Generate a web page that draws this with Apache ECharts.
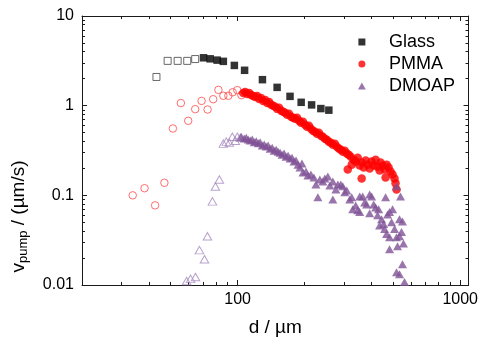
<!DOCTYPE html>
<html>
<head>
<meta charset="utf-8">
<script src="https://cdn.jsdelivr.net/npm/echarts@6/dist/echarts.min.js"></script>
<style>
  html, body { margin: 0; padding: 0; background: #fff; }
  #chart { width: 481px; height: 342px; }
</style>
</head>
<body>
<div id="chart"></div>
<script>
// Pumping speed v_pump (µm/s) against channel size d (µm), three wall coatings.
// Open symbols: points below the transition; filled symbols: main data set.

const glassOpen = [[43.2, 2.09], [48.5, 3.16], [53.8, 3.16], [59.4, 3.16], [64.5, 3.31]];
const glassFilled = [
  [70.3, 3.42], [75.3, 3.33], [80.9, 3.22], [86.3, 3.12], [96.7, 2.81], [107.5, 2.48],
  [129.3, 1.95], [150.5, 1.60], [172, 1.27], [193, 1.09], [215, 1.02], [236.6, 0.928], [257, 0.891]
];

const pmmaOpen = [
  [33.8, 0.100], [38.2, 0.120], [42.6, 0.0773], [46.9, 0.138], [51.2, 0.557], [55.6, 1.07],
  [60.0, 0.678], [64.5, 0.914], [68.9, 1.13], [73.3, 0.906], [77.7, 1.18], [82.0, 1.50],
  [86.3, 1.29], [90.9, 1.29], [95.0, 1.41], [99.7, 1.49], [104, 1.31]
];
const pmmaFilled = [
  [106.0, 1.386], [108.2, 1.422], [110.5, 1.351], [112.8, 1.386], [115.1, 1.318], [117.5, 1.284],
  [120.0, 1.252], [122.5, 1.284], [125.0, 1.190], [127.6, 1.220], [130.3, 1.130], [133.0, 1.160],
  [135.8, 1.074], [138.6, 1.102], [141.5, 1.021], [144.4, 0.995], [147.4, 0.970], [150.5, 0.921],
  [153.6, 0.945], [156.8, 0.876], [160.1, 0.853], [163.4, 0.832], [166.8, 0.791], [170.2, 0.811],
  [173.8, 0.751], [177.4, 0.732], [181.1, 0.714], [184.9, 0.732], [188.7, 0.678], [192.6, 0.645],
  [196.6, 0.661], [200.7, 0.612], [204.9, 0.582], [209.2, 0.597], [213.5, 0.553], [218.0, 0.525],
  [222.5, 0.512], [227.1, 0.487], [231.8, 0.499], [236.7, 0.462], [241.5, 0.450], [246.6, 0.428],
  [251.8, 0.417], [257.0, 0.397], [262.3, 0.387], [267.9, 0.367], [273.4, 0.377], [279.1, 0.349],
  [284.9, 0.332], [290.8, 0.323], [296.9, 0.307], [303.0, 0.315], [309.3, 0.292], [312.5, 0.194],
  [315.7, 0.284], [322.3, 0.270], [325.6, 0.220], [332.4, 0.250], [339.3, 0.238], [346.4, 0.263],
  [353.6, 0.215], [360.9, 0.232], [360.9, 0.154], [368.4, 0.204], [376.1, 0.244], [384.0, 0.220],
  [392.0, 0.199], [400.1, 0.238], [408.5, 0.215], [417.0, 0.250], [425.6, 0.209], [434.5, 0.189],
  [438.9, 0.232], [448.1, 0.215], [457.5, 0.194], [462.2, 0.158], [467.0, 0.220], [476.6, 0.204],
  [486.6, 0.184], [496.7, 0.171], [507.0, 0.154], [512.3, 0.136], [517.6, 0.116]
];

const dmoapOpen = [
  [59.0, 0.0111], [61.5, 0.0117], [64.7, 0.0123], [67.4, 0.0245], [71.0, 0.0194], [73.2, 0.0350],
  [77.1, 0.0856], [79.5, 0.1256], [82.8, 0.150], [86.3, 0.377], [89.0, 0.397], [91.8, 0.387],
  [94.7, 0.450], [97.7, 0.407], [99.7, 0.450], [102.8, 0.439]
];
const dmoapFilled = [
  [103.9, 0.45], [107.1, 0.43], [109.4, 0.44], [111.6, 0.42], [114.0, 0.41], [116.4, 0.42],
  [118.8, 0.39], [121.3, 0.40], [123.9, 0.38], [126.3, 0.39], [129.0, 0.36], [131.7, 0.37],
  [134.4, 0.35], [137.2, 0.36], [140.0, 0.33], [143.0, 0.34], [145.9, 0.315], [149.0, 0.323],
  [152.1, 0.307], [155.2, 0.299], [158.5, 0.284], [161.8, 0.292], [165.1, 0.270], [168.6, 0.277],
  [172.0, 0.257], [175.6, 0.263], [179.3, 0.238], [183.0, 0.244], [186.8, 0.220], [190.6, 0.204],
  [194.6, 0.226], [196.6, 0.180], [202.8, 0.184], [207.0, 0.166], [213.5, 0.171], [220.2, 0.158],
  [224.8, 0.132], [229.4, 0.095], [234.2, 0.150], [241.5, 0.143], [246.6, 0.154], [254.4, 0.162],
  [259.6, 0.129], [267.9, 0.143], [267.9, 0.090], [276.3, 0.116], [282.0, 0.132], [290.8, 0.132],
  [296.9, 0.126], [303.0, 0.108], [309.3, 0.113], [319.0, 0.090], [325.6, 0.095], [329.0, 0.070],
  [339.3, 0.077], [346.4, 0.068], [353.6, 0.097], [353.6, 0.065], [364.6, 0.097], [372.3, 0.083],
  [380.0, 0.079], [392.0, 0.102], [392.0, 0.063], [400.1, 0.097], [408.5, 0.079], [417.0, 0.073],
  [425.6, 0.060], [430.0, 0.070], [434.5, 0.046], [443.5, 0.054], [452.8, 0.048], [457.5, 0.042],
  [462.2, 0.095], [467.0, 0.037], [471.8, 0.061], [481.6, 0.065], [481.6, 0.034], [481.6, 0.025],
  [491.6, 0.050], [496.7, 0.070], [507.0, 0.042], [517.6, 0.126], [517.6, 0.034], [522.9, 0.027],
  [533.8, 0.054], [533.8, 0.035], [539.3, 0.097], [544.9, 0.039], [550.5, 0.051], [556.2, 0.029],
  [550.5, 0.017], [517.6, 0.0139], [533.8, 0.0132], [562.0, 0.0108]
];

// Axis ranges and tick positions
const xRange = [20, 1090];
const yRange = [0.01, 10];
const xMajor = [100, 1000];
const xMinor = [30, 40, 50, 60, 70, 80, 90, 200, 300, 400, 500, 600, 700, 800, 900];
const yMajor = [0.01, 0.1, 1, 10];
const yMinor = [0.02, 0.03, 0.04, 0.05, 0.06, 0.07, 0.08, 0.09,
                0.2, 0.3, 0.4, 0.5, 0.6, 0.7, 0.8, 0.9,
                2, 3, 4, 5, 6, 7, 8, 9];

const FONT = '"Liberation Sans", Arial, Helvetica, sans-serif';
const AXIS_COLOR = '#1a1a1a';

// One side of the frame: a log axis whose ticks sit at the given values.
function frameAxis(range, position, ticks, tickLen, withLine, label) {
  return {
    type: 'log',
    logBase: 10,
    min: range[0],
    max: range[1],
    position: position,
    axisLine: { show: withLine, onZero: false, lineStyle: { color: AXIS_COLOR, width: 1 } },
    axisTick: { show: true, inside: true, length: tickLen, customValues: ticks,
                lineStyle: { color: AXIS_COLOR, width: 1 } },
    axisLabel: label ? Object.assign({ customValues: ticks }, label) : { show: false },
    splitLine: { show: false },
    minorTick: { show: false },
    silent: true
  };
}

const tickLabel = {
  show: true, fontSize: 16, fontFamily: FONT, color: '#000',
  formatter: v => String(+v.toPrecision(6))
};

const xAxes = [
  Object.assign(frameAxis(xRange, 'bottom', xMajor, 5, true, Object.assign({ margin: 7 }, tickLabel)), {
    name: 'd / µm', nameLocation: 'middle', nameGap: 33,
    nameTextStyle: { fontSize: 19, fontFamily: FONT, color: '#000' }
  }),
  frameAxis(xRange, 'bottom', xMinor, 3, false, null),
  frameAxis(xRange, 'top', xMajor, 5, true, null),
  frameAxis(xRange, 'top', xMinor, 3, false, null)
];

const yAxes = [
  Object.assign(frameAxis(yRange, 'left', yMajor, 5, true, Object.assign({ margin: 8 }, tickLabel)), {
    name: '{v|v}{s|pump}{n| / (µm/s)}', nameLocation: 'middle', nameGap: 52, nameRotate: 90,
    nameTextStyle: {
      fontFamily: FONT, color: '#000', padding: [0, 132, 0, 0],
      rich: {
        v: { fontSize: 19, fontFamily: FONT, color: '#000' },
        s: { fontSize: 13, fontFamily: FONT, color: '#000', padding: [10, 0, 0, 0] },
        n: { fontSize: 19, fontFamily: FONT, color: '#000' }
      }
    }
  }),
  frameAxis(yRange, 'left', yMinor, 3, false, null),
  frameAxis(yRange, 'right', yMajor, 5, true, null),
  frameAxis(yRange, 'right', yMinor, 3, false, null)
];

const RED = '#ff0000';
const PURPLE = '#7f5296';

const series = [
  { name: 'Glass (open)', type: 'scatter', data: glassOpen, symbol: 'rect', symbolSize: 7,
    itemStyle: { color: 'transparent', borderColor: '#444', borderWidth: 1 } },
  { name: 'Glass', type: 'scatter', data: glassFilled, symbol: 'rect', symbolSize: 7.5,
    itemStyle: { color: '#000' } },
  { name: 'PMMA (open)', type: 'scatter', data: pmmaOpen, symbol: 'circle', symbolSize: 7.5,
    itemStyle: { color: 'transparent', borderColor: '#ff4a4a', borderWidth: 1 } },
  { name: 'PMMA', type: 'scatter', data: pmmaFilled, symbol: 'circle', symbolSize: 8.5,
    itemStyle: { color: RED } },
  { name: 'DMOAP (open)', type: 'scatter', data: dmoapOpen, symbol: 'triangle', symbolSize: [8.5, 7.5],
    itemStyle: { color: 'transparent', borderColor: '#a68bbf', borderWidth: 1 } },
  { name: 'DMOAP', type: 'scatter', data: dmoapFilled, symbol: 'triangle', symbolSize: [9, 8],
    itemStyle: { color: PURPLE } }
];

const chart = echarts.init(document.getElementById('chart'), null, { renderer: 'canvas' });
chart.setOption({
  animation: false,
  backgroundColor: '#fff',
  grid: { left: 82, right: 12, top: 16, bottom: 56, containLabel: false },
  xAxis: xAxes,
  yAxis: yAxes,
  legend: {
    orient: 'vertical', left: 353, top: 28,
    itemWidth: 44, itemHeight: 7, itemGap: 4,
    selectedMode: false,
    textStyle: { fontSize: 18, fontFamily: FONT, color: '#000' },
    data: [
      { name: 'Glass', icon: 'path://M0,0H10V10H0Z' },
      { name: 'PMMA', icon: 'circle' },
      { name: 'DMOAP', icon: 'path://M5,0L10,9L0,9Z' }
    ]
  },
  series: series
});
</script>
</body>
</html>
